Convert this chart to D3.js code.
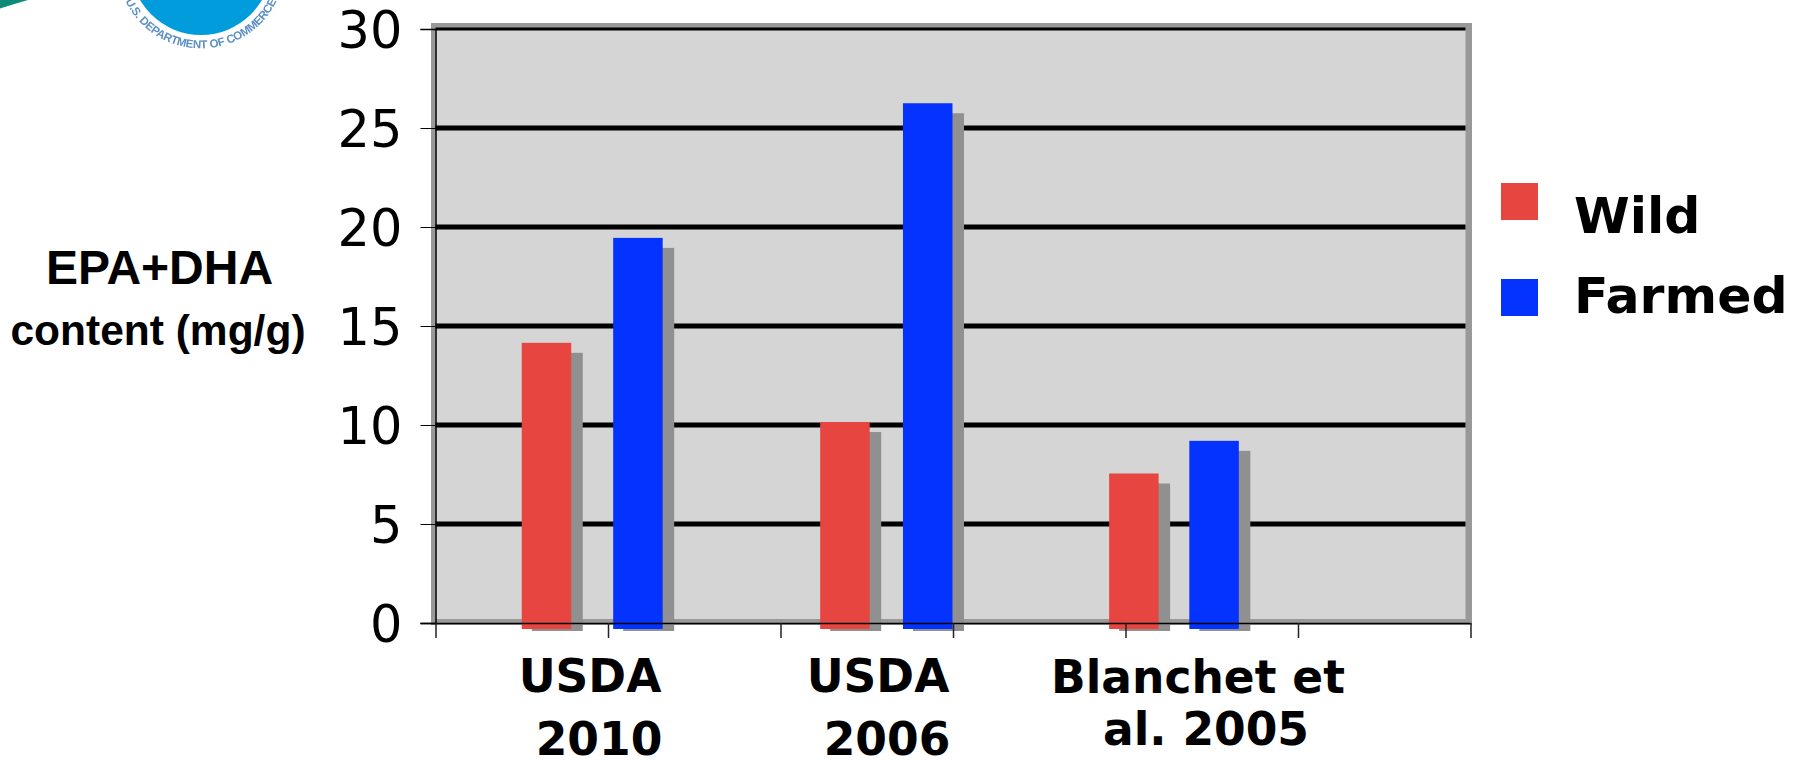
<!DOCTYPE html>
<html>
<head>
<meta charset="utf-8">
<script src="https://cdn.jsdelivr.net/npm/d3@7"></script>
<style>
  html, body { margin: 0; padding: 0; background: #fff; }
  svg { display: block; }
</style>
</head>
<body>
<svg id="chart" width="1802" height="760"></svg>
<script>
// EPA+DHA content by source, wild versus farmed
const categories = [["USDA", "2010"], ["USDA", "2006"], ["Blanchet et", "al. 2005"]];
const seriesNames = ["Wild", "Farmed"];
const wildValues = [14.15, 10.15, 7.55];
const farmedValues = [19.45, 26.25, 9.2];
const yTicks = [0, 5, 10, 15, 20, 25, 30];
const xTicks = [0, 1, 2, 3, 4, 5, 6];

// Where each bar starts along the category axis, in axis units
const wildSlots = [0.5, 2.23, 3.905];
const farmedSlots = [1.03, 2.71, 4.37];
const barWidthUnits = 0.287;

const colors = { Wild: "#e74640", Farmed: "#0433ff" };
const shadow = "#909090";

const svg = d3.select("#chart");
const x = d3.scaleLinear().domain([0, 6]).range([435.5, 1470.5]);
const y = d3.scaleLinear().domain([0, 30]).range([623, 29]);

// Plot wall with its grey frame
svg.append("rect").attr("x", x(0) - 4.5).attr("y", y(30) - 6)
  .attr("width", x(6) - x(0) + 6).attr("height", y(0) - y(30) + 8).attr("fill", "#999999");
svg.append("rect").attr("x", x(0)).attr("y", y(30))
  .attr("width", x(6) - x(0) - 5).attr("height", y(0) - y(30) - 4).attr("fill", "#d5d5d5");

// Gridlines
svg.append("g").selectAll("line").data(yTicks.filter(d => d > 0)).join("line")
  .attr("x1", x(0)).attr("x2", x(6) - 5)
  .attr("y1", d => y(d)).attr("y2", d => y(d))
  .attr("stroke", "#000").attr("stroke-width", d => d === 30 ? 3 : 5);

// Bars with their offset drop shadows
const barRows = seriesNames.flatMap(name => {
  const values = name === "Wild" ? wildValues : farmedValues;
  const slots = name === "Wild" ? wildSlots : farmedSlots;
  return values.map((value, i) => ({ name, value, slot: slots[i] }));
});
const barW = x(barWidthUnits) - x(0);
svg.append("g").selectAll("rect").data(barRows).join("rect")
  .attr("x", d => x(d.slot) + 10).attr("y", d => y(d.value) + 10)
  .attr("width", barW + 1.5).attr("height", d => y(0) - y(d.value) - 2)
  .attr("fill", shadow);
svg.append("g").selectAll("rect").data(barRows).join("rect")
  .attr("x", d => x(d.slot)).attr("y", d => y(d.value))
  .attr("width", barW).attr("height", d => y(0) - y(d.value) + 6)
  .attr("fill", d => colors[d.name]);

// Axes
const yAxis = d3.axisLeft(y).tickValues(yTicks).tickSize(15).tickPadding(18);
const yG = svg.append("g").attr("transform", `translate(${x(0)},0)`).call(yAxis);
yG.selectAll("text").attr("font-family", "'DejaVu Sans'").attr("font-size", 51).attr("fill", "#000")
  .attr("dy", "0.37em");
yG.selectAll("line").attr("stroke", "#000").attr("stroke-width", 1);
yG.select(".domain").attr("stroke", "#000").attr("stroke-width", 1.5);

const xAxis = d3.axisBottom(x).tickValues(xTicks).tickSize(15).tickFormat("");
const xG = svg.append("g").attr("transform", `translate(0,${y(0)})`).call(xAxis);
xG.selectAll("line").attr("stroke", "#222").attr("stroke-width", 1.5);
xG.select(".domain").attr("d", `M${x(0) - 15},0.5H${x(6)}`).attr("stroke", "#000").attr("stroke-width", 1.5);

// Category labels, two lines each
const labelX = [[590, 599], [878, 887], [1198, 1206]];
const labelRows = [[692, 755], [692, 755], [693, 745]];
const labels = svg.append("g").attr("font-family", "'DejaVu Sans'")
  .attr("font-weight", "bold").attr("font-size", 45.5).attr("fill", "#000").attr("text-anchor", "middle");
categories.forEach((lines, i) => {
  lines.forEach((line, j) => {
    labels.append("text").attr("x", labelX[i][j]).attr("y", labelRows[i][j]).text(line);
  });
});

// Value axis title
const title = svg.append("g").attr("font-family", "'Liberation Sans'").attr("font-weight", "bold")
  .attr("fill", "#000").attr("text-anchor", "middle");
title.append("text").attr("x", 159.5).attr("y", 284).attr("font-size", 48).text("EPA+DHA");
title.append("text").attr("x", 158).attr("y", 345).attr("font-size", 42.5).text("content (mg/g)");

// Legend
const legend = svg.append("g").selectAll("g").data(seriesNames).join("g");
legend.append("rect").attr("x", 1501).attr("y", (d, i) => 183 + i * 96)
  .attr("width", 37).attr("height", 37).attr("fill", d => colors[d]);
legend.append("text").attr("x", 1574).attr("y", (d, i) => 233 + i * 80)
  .attr("font-family", "'DejaVu Sans'").attr("font-weight", "bold").attr("font-size", 50.5)
  .attr("fill", "#000").text(d => d);

// Agency seal, cropped by the top edge, and the corner swoosh
const defs = svg.append("defs");
defs.append("filter").attr("id", "sealSoft").append("feGaussianBlur").attr("stdDeviation", 0.5);
defs.append("path").attr("id", "sealText").attr("d", "M 117,-35.6 A 84,84 0 0 0 285,-35.6");
const seal = svg.append("g").attr("filter", "url(#sealSoft)");
seal.append("circle").attr("cx", 201).attr("cy", -35.6).attr("r", 70.6).attr("fill", "#009cdc");
seal.append("text").attr("font-family", "'Liberation Sans'").attr("font-size", 11.5).attr("font-weight", "bold")
  .attr("fill", "#5b8fc6").append("textPath").attr("href", "#sealText").attr("startOffset", "50%")
  .attr("text-anchor", "middle").attr("textLength", 188).text("U.S. DEPARTMENT OF COMMERCE");
svg.append("path").attr("d", "M0,0 H28 Q14,4 0,8.5 Z").attr("fill", "#0d8a78");
</script>
</body>
</html>
